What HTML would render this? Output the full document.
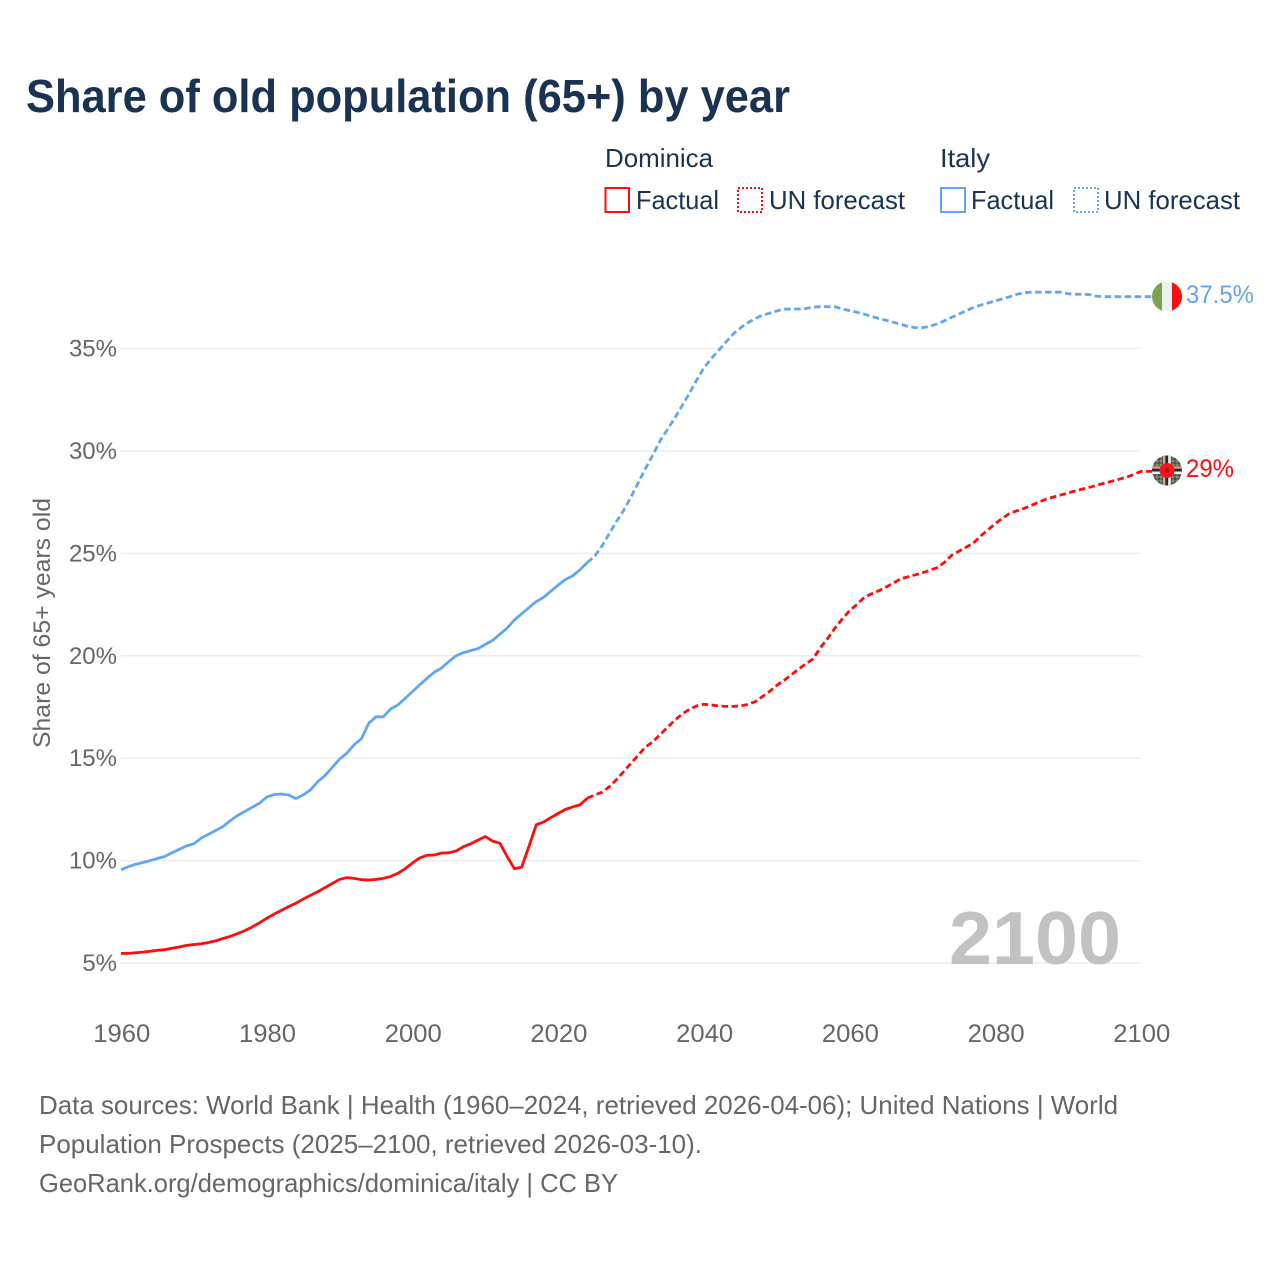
<!DOCTYPE html>
<html lang="en">
<head>
<meta charset="utf-8">
<title>Share of old population (65+) by year</title>
<style>
html,body{margin:0;padding:0;background:#fff}
svg{display:block;font-family:"Liberation Sans",sans-serif}
</style>
</head>
<body>
<svg id="chart" width="1280" height="1280" viewBox="0 0 1280 1280" xmlns="http://www.w3.org/2000/svg">
<defs>
<clipPath id="clip-it"><circle cx="1167" cy="296.5" r="15"/></clipPath>
<clipPath id="clip-dm"><circle cx="1167" cy="470.5" r="15"/></clipPath>
<pattern id="dm-hatch" x="0" y="0" width="4" height="4" patternUnits="userSpaceOnUse">
<rect width="4" height="4" fill="#646a64"/>
<rect x="0" y="0" width="2" height="2" fill="#7d9460"/>
<rect x="2" y="2" width="2" height="2" fill="#484f4a"/>
</pattern>
</defs>
<rect x="0" y="0" width="1280" height="1280" fill="#fff"/>
<text x="26" y="112" font-size="46" font-weight="700" fill="#1a3352" textLength="764" lengthAdjust="spacingAndGlyphs">Share of old population (65+) by year</text>

<g font-size="26" fill="#1a3352">
<text x="605" y="167" textLength="108" lengthAdjust="spacingAndGlyphs">Dominica</text>
<text x="940" y="167" textLength="50" lengthAdjust="spacingAndGlyphs">Italy</text>
<rect x="605.5" y="188" width="23.5" height="24" fill="none" stroke="#ff0d0d" stroke-width="2"/>
<text x="636" y="209" textLength="83" lengthAdjust="spacingAndGlyphs">Factual</text>
<rect x="738" y="188" width="24" height="24" fill="none" stroke="#ff0d0d" stroke-width="2" stroke-dasharray="2 2"/>
<text x="769" y="209" textLength="136" lengthAdjust="spacingAndGlyphs">UN forecast</text>
<rect x="941" y="188" width="24" height="24" fill="none" stroke="#62a6ee" stroke-width="2"/>
<text x="971" y="209" textLength="83" lengthAdjust="spacingAndGlyphs">Factual</text>
<rect x="1074" y="188" width="24" height="24" fill="none" stroke="#62a6ee" stroke-width="2" stroke-dasharray="2 2"/>
<text x="1104" y="209" textLength="136" lengthAdjust="spacingAndGlyphs">UN forecast</text>
</g>

<g id="grid"></g>
<g id="yticks"></g>
<g id="xticks"></g>
<text transform="translate(50,623) rotate(-90)" text-anchor="middle" font-size="24" fill="#666" textLength="250" lengthAdjust="spacingAndGlyphs">Share of 65+ years old</text>
<text x="949" y="964" font-size="75" font-weight="700" fill="#c2c2c2" textLength="172" lengthAdjust="spacingAndGlyphs">2100</text>
<g id="series"></g>

<g clip-path="url(#clip-it)">
<rect x="1152" y="281" width="10" height="31" fill="#78a44e"/>
<rect x="1162" y="281" width="10" height="31" fill="#f0f0f0"/>
<rect x="1172" y="281" width="10" height="31" fill="#ff0d0d"/>
</g>
<g clip-path="url(#clip-dm)">
<rect x="1152" y="455" width="30" height="31" fill="url(#dm-hatch)"/>
<rect x="1163" y="455" width="2.4" height="31" fill="#e8a070"/>
<rect x="1165.4" y="455" width="2.8" height="31" fill="#1a2a44"/>
<rect x="1168.2" y="455" width="2.6" height="31" fill="#eee"/>
<rect x="1152" y="466.5" width="30" height="2.2" fill="#e8a070"/>
<rect x="1152" y="468.7" width="30" height="2.8" fill="#1a2a44"/>
<rect x="1152" y="471.5" width="30" height="2.6" fill="#eee"/>
<circle cx="1167" cy="470.5" r="7.5" fill="#f4141a"/>
<circle cx="1167" cy="470.5" r="2.2" fill="#a01a1a"/>
</g>
<text x="1186" y="303" font-size="25" fill="#62a6ee" textLength="68" lengthAdjust="spacingAndGlyphs">37.5%</text>
<text x="1186" y="477" font-size="25" fill="#ff0d0d" textLength="48" lengthAdjust="spacingAndGlyphs">29%</text>

<g font-size="26" fill="#666">
<text x="39" y="1114" textLength="1079" lengthAdjust="spacingAndGlyphs">Data sources: World Bank | Health (1960–2024, retrieved 2026-04-06); United Nations | World</text>
<text x="39" y="1153" textLength="663" lengthAdjust="spacingAndGlyphs">Population Prospects (2025–2100, retrieved 2026-03-10).</text>
<text x="39" y="1192" textLength="579" lengthAdjust="spacingAndGlyphs">GeoRank.org/demographics/dominica/italy | CC BY</text>
</g>
</svg>
<script>
var factualStartYear = 1960;
var forecastStartYear = 2024;
var yTickValues = [5, 10, 15, 20, 25, 30, 35];
var xTickYears = [1960, 1980, 2000, 2020, 2040, 2060, 2080, 2100];

var italyFactual = [9.55,9.7,9.82,9.9,10.0,10.1,10.2,10.38,10.55,10.72,10.82,11.1,11.28,11.47,11.66,11.95,12.2,12.4,12.6,12.8,13.1,13.22,13.25,13.2,13.03,13.2,13.45,13.85,14.15,14.55,14.95,15.25,15.65,15.95,16.7,17.02,17.02,17.4,17.6,17.92,18.25,18.58,18.9,19.2,19.4,19.72,20.0,20.15,20.25,20.35,20.55,20.75,21.05,21.35,21.75,22.05,22.35,22.65,22.85,23.15,23.45,23.72,23.9,24.2,24.55];
var italyForecast = [24.55,24.85,25.35,25.95,26.55,27.1,27.75,28.45,29.15,29.8,30.5,31.05,31.6,32.2,32.8,33.45,34.05,34.5,34.9,35.3,35.7,36.0,36.25,36.45,36.62,36.72,36.83,36.92,36.93,36.93,36.95,37.02,37.04,37.04,37.04,36.93,36.85,36.77,36.68,36.57,36.47,36.38,36.28,36.18,36.08,36.02,36.02,36.08,36.2,36.35,36.52,36.68,36.85,37.0,37.12,37.22,37.32,37.43,37.53,37.65,37.73,37.75,37.75,37.75,37.75,37.75,37.67,37.65,37.65,37.63,37.55,37.53,37.53,37.53,37.53,37.53,37.53];
var dominicaFactual = [5.47,5.47,5.5,5.53,5.57,5.62,5.65,5.72,5.78,5.86,5.9,5.94,6.0,6.08,6.2,6.3,6.43,6.58,6.76,6.96,7.18,7.38,7.57,7.75,7.92,8.12,8.3,8.48,8.68,8.88,9.08,9.17,9.13,9.07,9.05,9.08,9.13,9.22,9.38,9.6,9.88,10.13,10.26,10.27,10.37,10.38,10.47,10.68,10.82,11.0,11.17,10.95,10.85,10.2,9.6,9.68,10.7,11.75,11.88,12.1,12.3,12.5,12.62,12.72,13.05];
var dominicaForecast = [13.05,13.2,13.33,13.6,13.95,14.35,14.75,15.15,15.55,15.8,16.15,16.5,16.85,17.15,17.38,17.55,17.63,17.6,17.55,17.53,17.53,17.55,17.62,17.75,18.0,18.25,18.55,18.8,19.07,19.35,19.6,19.85,20.4,20.85,21.35,21.8,22.2,22.5,22.85,23.02,23.17,23.35,23.55,23.75,23.85,23.95,24.05,24.17,24.3,24.55,24.9,25.1,25.3,25.5,25.85,26.15,26.45,26.72,26.96,27.08,27.2,27.35,27.5,27.65,27.75,27.85,27.95,28.05,28.14,28.23,28.33,28.43,28.52,28.62,28.72,28.85,29.0];

var NS = 'http://www.w3.org/2000/svg';
function xScale(year) { return 121 + (year - 1960) * (1020 / 140); }
function yScale(value) { return 963 - (value - 5) * (614.5 / 30); }
function makeEl(tag, parentId) {
  var el = document.createElementNS(NS, tag);
  document.getElementById(parentId).appendChild(el);
  return el;
}
function pathFor(values, startYear, tailX) {
  var pts = [];
  for (var i = 0; i < values.length; i++) {
    pts.push(xScale(startYear + i).toFixed(2) + ',' + yScale(values[i]).toFixed(2));
  }
  if (tailX) pts.push(tailX + ',' + yScale(values[values.length - 1]).toFixed(2));
  return 'M' + pts.join('L');
}
yTickValues.forEach(function (v) {
  var line = makeEl('line', 'grid');
  
  
  line.setAttribute('x1', 121);
  line.setAttribute('x2', 1141);
  line.setAttribute('y1', yScale(v));
  line.setAttribute('y2', yScale(v));
  line.setAttribute('stroke', '#eeeeee');
  line.setAttribute('stroke-width', '1.5');
  var label = makeEl('text', 'yticks');
  
  
  label.setAttribute('x', 117);
  label.setAttribute('y', yScale(v) + 8);
  label.setAttribute('text-anchor', 'end');
  label.setAttribute('font-size', '24');
  label.setAttribute('fill', '#666');
  label.textContent = v + '%';
});
xTickYears.forEach(function (y) {
  var label = makeEl('text', 'xticks');
  
  
  label.setAttribute('x', xScale(y) + 0.8);
  label.setAttribute('y', 1042);
  label.setAttribute('text-anchor', 'middle');
  label.setAttribute('font-size', '25');
  label.setAttribute('fill', '#666');
  label.setAttribute('textLength', '57');
  label.setAttribute('lengthAdjust', 'spacingAndGlyphs');
  label.textContent = y;
});
function addLine(name, values, startYear, color, dashed) {
  var p = makeEl('path', 'series');
  
  
  p.setAttribute('d', pathFor(values, startYear, dashed ? 1152 : 0));
  p.setAttribute('fill', 'none');
  p.setAttribute('stroke', color);
  p.setAttribute('stroke-width', '2.8');
  p.setAttribute('stroke-linejoin', 'round');
  if (dashed) p.setAttribute('stroke-dasharray', '6.5 3.5');
}
addLine('italy-factual-line', italyFactual, factualStartYear, '#62a6ee', false);
addLine('italy-forecast-line', italyForecast, forecastStartYear, '#62a6ee', true);
addLine('dominica-factual-line', dominicaFactual, factualStartYear, '#ff0d0d', false);
addLine('dominica-forecast-line', dominicaForecast, forecastStartYear, '#ff0d0d', true);
</script>
</body>
</html>
